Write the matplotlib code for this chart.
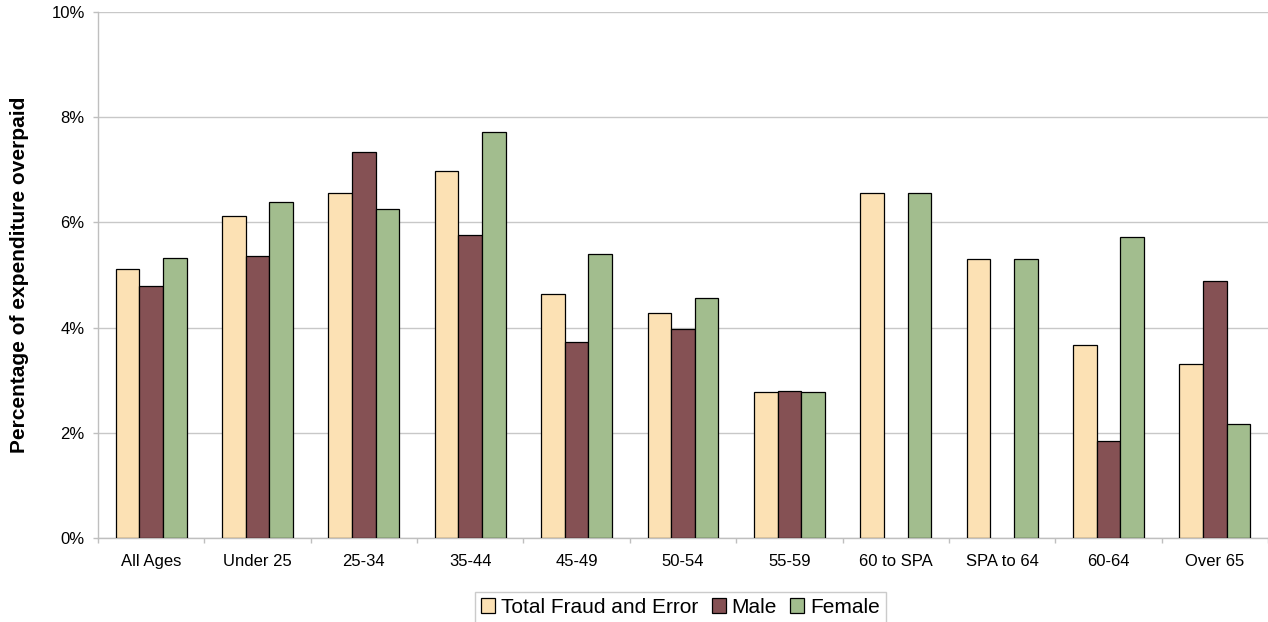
import numpy as np
import matplotlib
matplotlib.use("Agg")
import matplotlib.pyplot as plt
from matplotlib.ticker import PercentFormatter, FixedLocator
from matplotlib.patches import Patch

categories = ['All Ages', 'Under 25', '25-34', '35-44', '45-49', '50-54',
              '55-59', '60 to SPA', 'SPA to 64', '60-64', 'Over 65']
total = [5.11, 6.12, 6.55, 6.98, 4.64, 4.27, 2.77, 6.55, 5.30, 3.68, 3.31]
male = [4.79, 5.37, 7.33, 5.77, 3.72, 3.97, 2.80, np.nan, np.nan, 1.85, 4.89]
female = [5.32, 6.38, 6.25, 7.71, 5.40, 4.56, 2.77, 6.55, 5.30, 5.73, 2.17]
series_names = ['Total Fraud and Error', 'Male', 'Female']
colors = ['#FCE1B4', '#855154', '#A2BD8E']
yticks = [0, 2, 4, 6, 8, 10]

plt.rcParams['font.family'] = ['Liberation Sans', 'DejaVu Sans']

fig = plt.figure(figsize=(12.68, 6.22), dpi=100)
ax = fig.add_axes([98/1268, (622-538.3)/622, 1170/1268, 526.5/622])

x = np.arange(len(categories))
w = 0.667 / 3
for i, (vals, c) in enumerate(zip([total, male, female], colors)):
    ax.bar(x + (i - 1) * w, vals, width=w, color=c, edgecolor='black',
           linewidth=0.9, zorder=3)

ax.set_xlim(-0.5, len(categories) - 0.5)
ax.set_ylim(0, 10)
ax.set_yticks(yticks)
ax.yaxis.set_major_formatter(PercentFormatter(xmax=100, decimals=0))
ax.yaxis.grid(True, color='#C8C8C8', linewidth=1, zorder=0)
ax.set_axisbelow(True)

ax.set_xticks(x)
ax.set_xticklabels(categories)
ax.xaxis.set_minor_locator(FixedLocator(np.arange(-0.5, len(categories), 1.0)))
ax.tick_params(axis='x', which='major', length=0, pad=11.5, labelsize=12)
ax.tick_params(axis='x', which='minor', length=3.6, color='#BFBFBF', width=1)
ax.tick_params(axis='y', length=3.6, color='#BFBFBF', width=1, labelsize=12, pad=6)

for s in ['top', 'right']:
    ax.spines[s].set_visible(False)
for s in ['left', 'bottom']:
    ax.spines[s].set_color('#BFBFBF')
    ax.spines[s].set_linewidth(1)

ax.set_ylabel('Percentage of expenditure overpaid', fontsize=15,
              fontweight='bold')
ax.yaxis.set_label_coords(29.5 / 1268, 1 - 275 / 622, transform=fig.transFigure)

handles = [Patch(facecolor=c, edgecolor='black', linewidth=0.9) for c in colors]
leg = fig.legend(handles, series_names, loc='upper center',
                 bbox_to_anchor=(680.5 / 1268, 1 - 591.5 / 622),
                 ncol=3, fontsize=15, frameon=True, fancybox=False,
                 edgecolor='#BFBFBF', handlelength=0.67, handleheight=0.67,
                 handletextpad=0.29, columnspacing=0.62, borderpad=0.3,
                 borderaxespad=0)
leg.get_frame().set_linewidth(1)

fig.savefig('out.png', dpi=100)
